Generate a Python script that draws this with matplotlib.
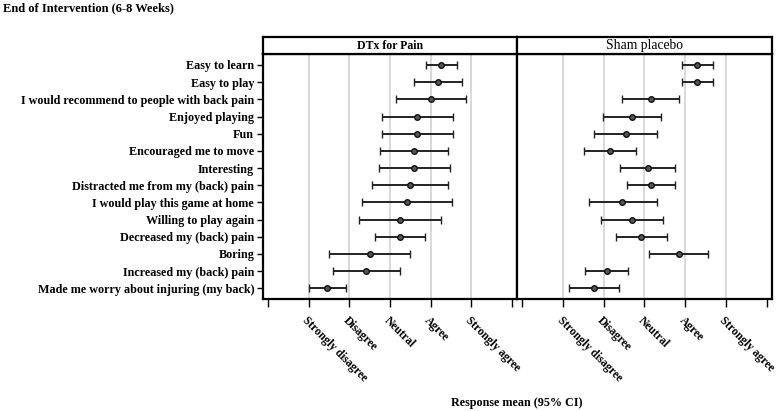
import matplotlib.pyplot as plt

# Itens do questionario (de cima para baixo)
itens = [
    "Easy to learn",
    "Easy to play",
    "I would recommend to people with back pain",
    "Enjoyed playing",
    "Fun",
    "Encouraged me to move",
    "Interesting",
    "Distracted me from my (back) pain",
    "I would play this game at home",
    "Willing to play again",
    "Decreased my (back) pain",
    "Boring",
    "Increased my (back) pain",
    "Made me worry about injuring (my back)",
]

# DTx for Pain: media e IC 95%
dtx_media = [4.25, 4.18, 4.00, 3.67, 3.67, 3.59, 3.59, 3.50, 3.42, 3.25, 3.25, 2.50, 2.42, 1.45]
dtx_inf = [3.88, 3.59, 3.16, 2.80, 2.80, 2.75, 2.72, 2.57, 2.31, 2.25, 2.64, 1.50, 1.59, 1.00]
dtx_sup = [4.64, 4.78, 4.86, 4.54, 4.54, 4.42, 4.47, 4.42, 4.52, 4.25, 3.87, 3.49, 3.25, 1.92]

# Sham placebo: media e IC 95%
sham_media = [4.30, 4.30, 3.15, 2.69, 2.54, 2.15, 3.08, 3.15, 2.45, 2.69, 2.92, 3.85, 2.07, 1.76]
sham_inf = [3.92, 3.92, 2.46, 1.98, 1.77, 1.51, 2.41, 2.56, 1.63, 1.93, 2.30, 3.12, 1.55, 1.15]
sham_sup = [4.68, 4.68, 3.85, 3.41, 3.30, 2.80, 3.76, 3.76, 3.30, 3.45, 3.55, 4.57, 2.60, 2.38]

# Escala de resposta
ticks = [0, 1, 2, 3, 4, 5, 6]
rotulos = ["", "Strongly disagree", "Disagree", "Neutral", "Agree", "Strongly agree", ""]

fonte = "Liberation Serif"
plt.rcParams['font.family'] = fonte

fig = plt.figure(figsize=(7.77, 4.11), dpi=100)

paineis = [
    ("DTx for Pain", dtx_media, dtx_inf, dtx_sup, 'bold', 8.5),
    ("Sham placebo", sham_media, sham_inf, sham_sup, 'normal', 9.8),
]
esquerdas = [262.5 / 777, 517 / 777]
largura = 254.5 / 777
base = 112 / 411
altura = (299 - 54) / 411

pos = list(range(len(itens)))

for k, (titulo, media, inf, sup, peso, tam) in enumerate(paineis):
    ax = fig.add_axes([esquerdas[k], base, largura, altura])
    erro = [[m - a for m, a in zip(media, inf)], [b - m for m, b in zip(media, sup)]]
    ax.errorbar(media, pos, xerr=erro, fmt='o', color='#222222', ecolor='#222222',
                elinewidth=1.4, capsize=3.2, capthick=1.4, ms=4.0,
                mfc='#555555', mec='#111111', mew=1.0, zorder=3)
    for g in ticks[1:6]:
        ax.axvline(g, color='#d0d0d0', lw=1.1, zorder=1)
    ax.set_xlim(-0.13, 6.12)
    ax.set_ylim(len(itens) - 0.38, -0.64)
    ax.set_xticks(ticks)
    ax.set_xticklabels(rotulos, rotation=-45, ha='left', va='top',
                       rotation_mode='anchor', fontsize=8.4, fontweight='bold')
    ax.tick_params(axis='x', length=6, width=1.0, pad=5)
    for s in ax.spines.values():
        s.set_linewidth(1.6)
    if k == 0:
        ax.set_yticks(pos)
        ax.set_yticklabels(itens, fontsize=8.7, fontweight='bold')
        ax.tick_params(axis='y', length=4, width=1.0, pad=2)
    else:
        ax.set_yticks([])

    # faixa do titulo do painel
    cab = fig.add_axes([esquerdas[k], 1 - 54 / 411, largura, 17 / 411])
    cab.set_xticks([])
    cab.set_yticks([])
    for s in cab.spines.values():
        s.set_linewidth(1.6)
    cab.text(0.5, 0.5, titulo, ha='center', va='center', fontsize=tam,
             fontweight=peso, transform=cab.transAxes)

fig.text(3 / 777, 1 - 8 / 411, "End of Intervention (6-8 Weeks)", ha='left', va='center',
         fontsize=9, fontweight='bold')
fig.text(517 / 777, 1 - 403 / 411, "Response mean (95% CI)", ha='center', va='center',
         fontsize=8.7, fontweight='bold')

fig.savefig("out.png", dpi=100)
